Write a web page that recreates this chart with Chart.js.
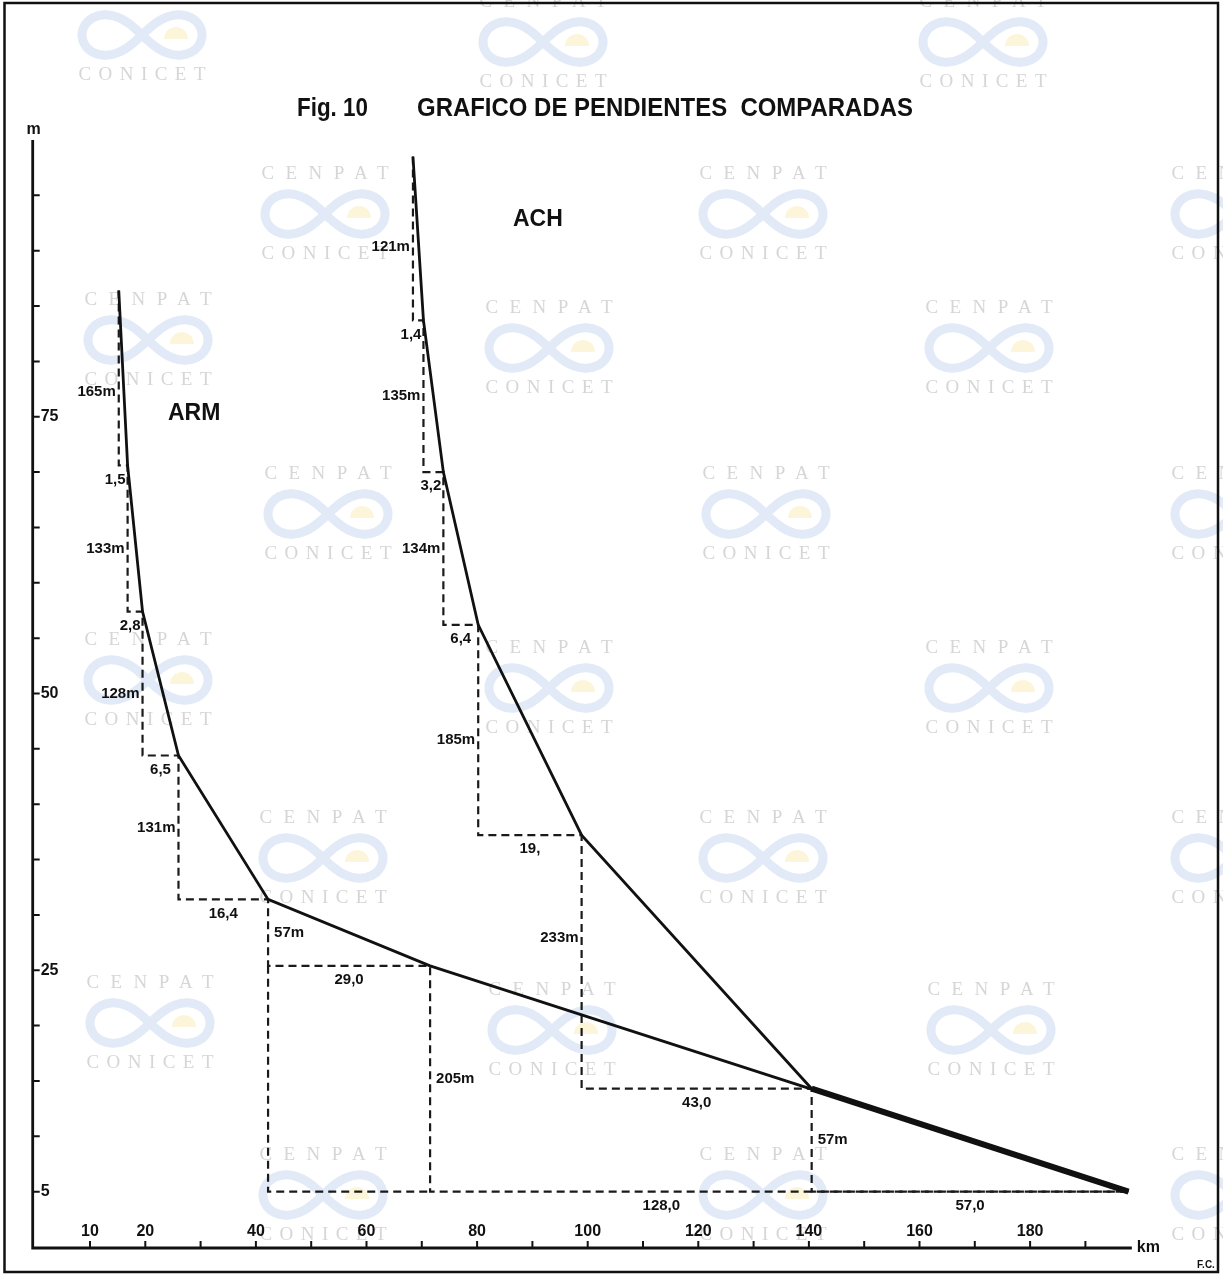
<!DOCTYPE html>
<html><head><meta charset="utf-8">
<script src="https://cdn.jsdelivr.net/npm/chart.js@4.4.1/dist/chart.umd.min.js"></script>
<style>html,body{margin:0;padding:0;background:#fff;}#wrap{width:1223px;height:1276px;position:relative;}</style>
</head><body><div id="wrap"><canvas id="c"></canvas></div>
<script>
// ---- data (km, elevation in tens of metres) ----
const armKm  = [15.2, 16.8, 19.5, 26.0, 42.2, 71.5, 197.8];
const armAlt = [86.4, 70.6, 57.4, 44.4, 31.4, 25.4, 5.0];
const achKm  = [68.4, 70.3, 73.9, 80.2, 98.9, 140.5, 197.8];
const achAlt = [98.5, 83.7, 70.0, 56.2, 37.2, 14.3, 5.0];
const armDrops = ['165m','133m','128m','131m','57m','205m'];
const armRuns  = ['1,5','2,8','6,5','16,4','29,0','128,0'];
const achDrops = ['121m','135m','134m','185m','233m','57m'];
const achRuns  = ['1,4','3,2','6,4','19,','43,0','57,0'];
const xMinorTicks = [10,20,30,40,50,60,70,80,90,100,110,120,130,140,150,160,170,180,190];
const xTickLabels = [10,20,40,60,80,100,120,140,160,180];
const yMinorTicks = [5,10,15,20,25,30,35,40,45,50,55,60,65,70,75,80,85,90,95];
const yTickLabels = [5,25,50,75];
const xMax = 198.4, yMax = 100;

// ---- helpers ----
const toPts = (xs, ys) => xs.map((x, i) => ({x, y: ys[i]}));
function stairs(xs, ys){
  const out = [];
  for (let i = 0; i < xs.length - 1; i++){ out.push({x:xs[i], y:ys[i]}); out.push({x:xs[i], y:ys[i+1]}); }
  out.push({x:xs[xs.length-1], y:ys[ys.length-1]});
  return out;
}
const n = armKm.length;
const armBox = [{x:armKm[n-3], y:armAlt[n-2]}, {x:armKm[n-3], y:armAlt[n-1]}, {x:armKm[n-2], y:armAlt[n-1]}];

const lineStyle = {showLine:true, pointRadius:0, pointHoverRadius:0, borderColor:'#111', backgroundColor:'#111', borderWidth:2.8, fill:false, tension:0, order:0, clip:false};
const dashStyle = {showLine:true, pointRadius:0, pointHoverRadius:0, borderColor:'#1a1a1a', backgroundColor:'#1a1a1a', borderWidth:2.2, borderDash:[8,5], fill:false, tension:0, order:1, clip:false};

const FONT = '"Liberation Sans", Arial, sans-serif';
const SERIF = '"Liberation Serif", "DejaVu Serif", serif';

// watermark centres (decoration)
const wmA = [[142,-5],[543,2],[983,2],[148,300],[549,308],[989,308],[148,640],[549,648],[989,648],[150,983],[552,990],[991,990]];
const wmB = [[325,174],[763,174],[1235,174],[328,474],[766,474],[1235,474],[323,818],[763,818],[1235,818],[323,1155],[763,1155],[1235,1155]];

function spacedText(ctx, txt, cx, cy, width){
  ctx.letterSpacing = '0px';
  const w0 = ctx.measureText(txt).width;
  const sp = (width - w0) / (txt.length - 1);
  ctx.letterSpacing = sp + 'px';
  ctx.textAlign = 'left';
  ctx.fillText(txt, cx - width/2, cy);
  ctx.letterSpacing = '0px';
}
function drawLogo(ctx, cx, cy){
  ctx.save();
  ctx.strokeStyle = 'rgba(205,220,240,0.6)';
  ctx.lineWidth = 9; ctx.lineCap = 'round';
  ctx.beginPath();
  const a = 60;
  for (let k = 0; k <= 200; k++){
    const t = k / 200 * Math.PI * 2;
    const s = Math.sin(t), c = Math.cos(t);
    const x = cx + a * c / (1 + s*s), y = cy + a * 0.95 * s * c / (1 + s*s);
    if (k === 0) ctx.moveTo(x, y); else ctx.lineTo(x, y);
  }
  ctx.stroke();
  ctx.fillStyle = 'rgba(250,236,185,0.55)';
  ctx.beginPath(); ctx.arc(cx + 34, cy + 4, 12, Math.PI, 0); ctx.fill();
  ctx.restore();
}
function drawWatermark(ctx, cx, cy){
  ctx.fillStyle = '#d6d6d6';
  ctx.font = '19px ' + SERIF;
  ctx.textBaseline = 'middle';
  spacedText(ctx, 'CENPAT', cx, cy, 127);
  drawLogo(ctx, cx, cy + 40);
  ctx.fillStyle = '#d6d6d6';
  ctx.font = '19px ' + SERIF;
  spacedText(ctx, 'CONICET', cx, cy + 80, 127);
}

const runShift = {arm:{5:-118}, ach:{}};
const dropShift = {arm:{0:14, 1:10, 2:10}, ach:{0:8, 3:10, 4:-24}};
const dropRight = {arm:[4,5], ach:[5]};

const decor = {
  id: 'decor',
  beforeDraw(chart){
    const ctx = chart.ctx;
    ctx.save();
    ctx.fillStyle = '#fff'; ctx.fillRect(0, 0, chart.width, chart.height);
    ctx.restore();
  },
  beforeDatasetsDraw(chart){
    const ctx = chart.ctx, X = v => chart.scales.x.getPixelForValue(v), Y = v => chart.scales.y.getPixelForValue(v);
    ctx.save();
    wmA.concat(wmB).forEach(([cx, cy]) => drawWatermark(ctx, cx, cy));
    // frame
    ctx.strokeStyle = '#111'; ctx.lineWidth = 2.5;
    ctx.strokeRect(4.5, 3, 1213.5, 1269);
    // axes
    const axX = chart.chartArea.left - 2, axY = Y(0) + 1;
    ctx.lineWidth = 2.8;
    ctx.beginPath(); ctx.moveTo(axX, Y(yMax)); ctx.lineTo(axX, axY); ctx.lineTo(X(xMax), axY); ctx.stroke();
    ctx.lineWidth = 2;
    ctx.beginPath();
    xMinorTicks.forEach(v => { ctx.moveTo(X(v), axY); ctx.lineTo(X(v), axY - 7); });
    yMinorTicks.forEach(v => { ctx.moveTo(axX, Y(v)); ctx.lineTo(axX + 7, Y(v)); });
    ctx.stroke();
    ctx.fillStyle = '#111';
    ctx.font = 'bold 16px ' + FONT;
    ctx.textBaseline = 'middle';
    ctx.textAlign = 'center';
    xTickLabels.forEach(v => ctx.fillText(String(v), X(v), axY - 16));
    ctx.textAlign = 'left';
    yTickLabels.forEach(v => ctx.fillText(String(v), axX + 8, Y(v)));
    ctx.fillText('km', X(xMax) + 5, axY);
    ctx.textAlign = 'center';
    ctx.fillText('m', axX + 1, Y(yMax) - 10);
    ctx.font = 'bold 10px ' + FONT;
    ctx.fillText('F.C.', 1206, 1265);
    // title
    ctx.font = 'bold 25px ' + FONT;
    ctx.textAlign = 'left'; ctx.textBaseline = 'alphabetic';
    ctx.fillText('Fig. 10', 297, 116, 71);
    ctx.fillText('GRAFICO DE PENDIENTES  COMPARADAS', 417, 116, 496);
    ctx.restore();
  },
  afterDatasetsDraw(chart){
    const ctx = chart.ctx, X = v => chart.scales.x.getPixelForValue(v), Y = v => chart.scales.y.getPixelForValue(v);
    ctx.save();
    ctx.fillStyle = '#111';
    ctx.font = 'bold 23px ' + FONT;
    ctx.textBaseline = 'middle'; ctx.textAlign = 'left';
    ctx.fillText('ARM', 168, 414, 54);
    ctx.fillText('ACH', 513, 220, 50);
    ctx.font = 'bold 15px ' + FONT;
    const draw = (key, xs, ys, drops, runs) => {
      for (let i = 0; i < xs.length - 1; i++){
        const px = X(xs[i]), my = (Y(ys[i]) + Y(ys[i+1])) / 2 + (dropShift[key][i] || 0);
        if (dropRight[key].includes(i)){ ctx.textAlign = 'left'; ctx.fillText(drops[i], px + 6, my); }
        else { ctx.textAlign = 'right'; ctx.fillText(drops[i], px - 3, my); }
        const x1 = px, x2 = X(xs[i+1]), w = ctx.measureText(runs[i]).width;
        const cx = Math.min((x1 + x2) / 2, x2 - w/2 - 2) + (runShift[key][i] || 0);
        ctx.textAlign = 'center';
        ctx.fillText(runs[i], cx, Y(ys[i+1]) + 14);
      }
    };
    draw('arm', armKm, armAlt, armDrops, armRuns);
    draw('ach', achKm, achAlt, achDrops, achRuns);
    ctx.restore();
  }
};

new Chart(document.getElementById('c'), {
  type: 'scatter',
  data: { datasets: [
    Object.assign({label:'ARM', data: toPts(armKm, armAlt)}, lineStyle),
    Object.assign({label:'ACH', data: toPts(achKm, achAlt), segment:{borderWidth: c => c.p0DataIndex === achKm.length - 2 ? 6 : 2.8}}, lineStyle),
    Object.assign({label:'ARM steps', data: stairs(armKm, armAlt)}, dashStyle),
    Object.assign({label:'ARM box', data: armBox}, dashStyle),
    Object.assign({label:'ACH steps', data: stairs(achKm, achAlt)}, dashStyle)
  ]},
  options: {
    responsive: true, maintainAspectRatio: false, animation: false, devicePixelRatio: 1,
    layout: { padding: { left: 34.7, right: 1223 - 34.7 - xMax * 5.53, top: 140, bottom: 29 } },
    plugins: { legend: { display: false }, tooltip: { enabled: false } },
    events: [],
    scales: {
      x: { type: 'linear', min: 0, max: xMax, display: false },
      y: { type: 'linear', min: 0, max: yMax, display: false }
    }
  },
  plugins: [decor]
});
</script></body></html>
